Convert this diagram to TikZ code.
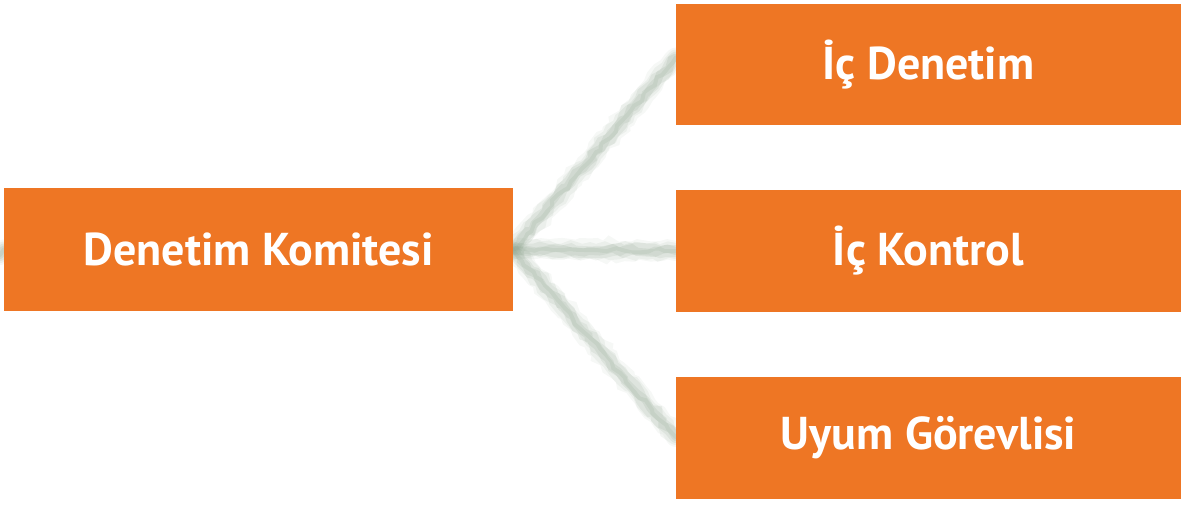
\documentclass[tikz,border=0pt]{standalone}
\usepackage{fontspec}
\setmainfont{PT Sans}
\usetikzlibrary{backgrounds,decorations.pathmorphing}
\definecolor{boxorange}{RGB}{238,118,36}
\definecolor{fuzz}{RGB}{140,162,140}
\tikzset{
  orangebox/.style={fill=boxorange, draw=none, inner sep=0pt, text=white,
    font=\fontsize{46}{50}\selectfont\bfseries},
  fuzzline/.style={draw=fuzz, line cap=round, decorate,
    decoration={random steps, segment length=7pt, amplitude=2.5pt}},
}
\begin{document}
\begin{tikzpicture}[x=1pt,y=-1pt]
\useasboundingbox (0,0) rectangle (1181,506);
\node[orangebox, minimum width=509pt, minimum height=123pt] (dk) at (258.5,249.5) {Denetim Komitesi};
\node[orangebox, minimum width=505pt, minimum height=121pt] (id) at (928.5,64.5) {İç Denetim};
\node[orangebox, minimum width=505pt, minimum height=122pt] (ik) at (928.5,251) {İç Kontrol};
\node[orangebox, minimum width=505pt, minimum height=122pt] (ug) at (928.5,438) {Uyum Görevlisi};
\coordinate (lin) at (0,255);
\begin{scope}[on background layer]
  \foreach \w/\o in {20/0.08, 16/0.1, 12/0.14, 8/0.16, 4/0.16} {
    \draw[fuzzline, line width=\w pt, draw opacity=\o] (dk.east) -- ([yshift=7pt]id.west);
    \draw[fuzzline, line width=\w pt, draw opacity=\o] (dk.east) -- (ik.west);
    \draw[fuzzline, line width=\w pt, draw opacity=\o] (dk.east) -- ([yshift=1pt]ug.west);
    \draw[fuzzline, line width=\w pt, draw opacity=\o] (lin) -- (dk.west);
  }
\end{scope}
\end{tikzpicture}
\end{document}
